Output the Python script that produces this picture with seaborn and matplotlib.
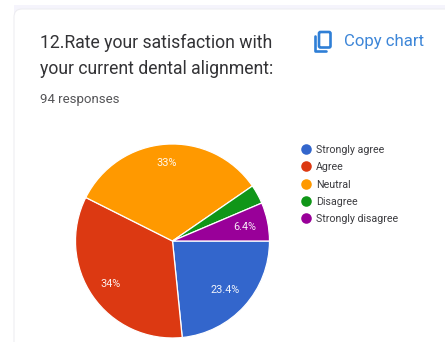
import matplotlib
matplotlib.use("Agg")
import matplotlib.pyplot as plt
from matplotlib.patches import FancyBboxPatch, Rectangle
from matplotlib.lines import Line2D
import seaborn as sns

categories = ["Strongly agree", "Agree", "Neutral", "Disagree", "Strongly disagree"]
values = [23.4, 34.0, 33.0, 3.2, 6.4]
value_labels = ["23.4%", "34%", "33%", "", "6.4%"]
colors = ["#3366cc", "#dc3912", "#ff9900", "#109618", "#990099"]
title_lines = ["12.Rate your satisfaction with", "your current dental alignment:"]
subtitle = "94 responses"
copy_label = "Copy chart"

sns.set_theme(style="white")
plt.rcParams["font.family"] = ["Roboto", "DejaVu Sans"]

W, H = 445, 342
fig = plt.figure(figsize=(W / 100, H / 100), dpi=100, facecolor="#ffffff")

bg = fig.add_axes([0, 0, 1, 1])
bg.set_xlim(0, W)
bg.set_ylim(H, 0)
bg.axis("off")
bg.add_patch(Rectangle((0, 0), W, H, fc="#ffffff", ec="none"))
bg.add_patch(Rectangle((14, 5), W, 10, fc="#f5f4fc", ec="none"))
bg.add_patch(FancyBboxPatch((22, 17), W + 20, H + 20, boxstyle="round,pad=8,rounding_size=8",
                            fc="#ffffff", ec="#ececf0", lw=0.7))

for y, line in zip((42.5, 68.5), title_lines):
    bg.text(40.5, y + 0.5, line, fontsize=12.7, color="#333336", va="center", ha="left")
bg.text(40.5, 99.5, subtitle, fontsize=9.5, color="#555558", va="center", ha="left")
bg.text(344.5, 41.5, copy_label, fontsize=12.1, color="#3d86d8", va="center", ha="left")

icon = "#2f7fd6"
bg.add_patch(FancyBboxPatch((319, 32), 11.5, 15.5, boxstyle="round,pad=0,rounding_size=1.5",
                            fc="none", ec=icon, lw=1.9))
bg.add_line(Line2D([314.5, 314.5, 326], [36, 51, 51], color=icon, lw=1.9))

cx, cy, r = 172.5, 241, 97
ax = fig.add_axes([(cx - r) / W, 1 - (cy + r) / H, 2 * r / W, 2 * r / H])
wedges, _ = ax.pie(values, colors=sns.color_palette(colors), startangle=0, counterclock=False,
                   radius=1, wedgeprops=dict(edgecolor="white", linewidth=0.9))
ax.set_xlim(-1, 1)
ax.set_ylim(-1, 1)

label_pos = [(0.54, -0.51), (-0.64, -0.44), (-0.06, 0.80), None, (0.75, 0.145)]
for txt, pos in zip(value_labels, label_pos):
    if pos:
        ax.text(pos[0], pos[1], txt, color="white", fontsize=7.8, ha="center", va="center", alpha=0.92)

for i, (name, col) in enumerate(zip(categories, colors)):
    y = 149.5 + i * 17.3
    bg.plot([306], [y - 0.5], "o", ms=7.6, color=col, mec="none")
    bg.text(316, y + 0.7, name, fontsize=7.65, color="#3c3c40", va="center", ha="left")

fig.savefig("out.png", dpi=100)
